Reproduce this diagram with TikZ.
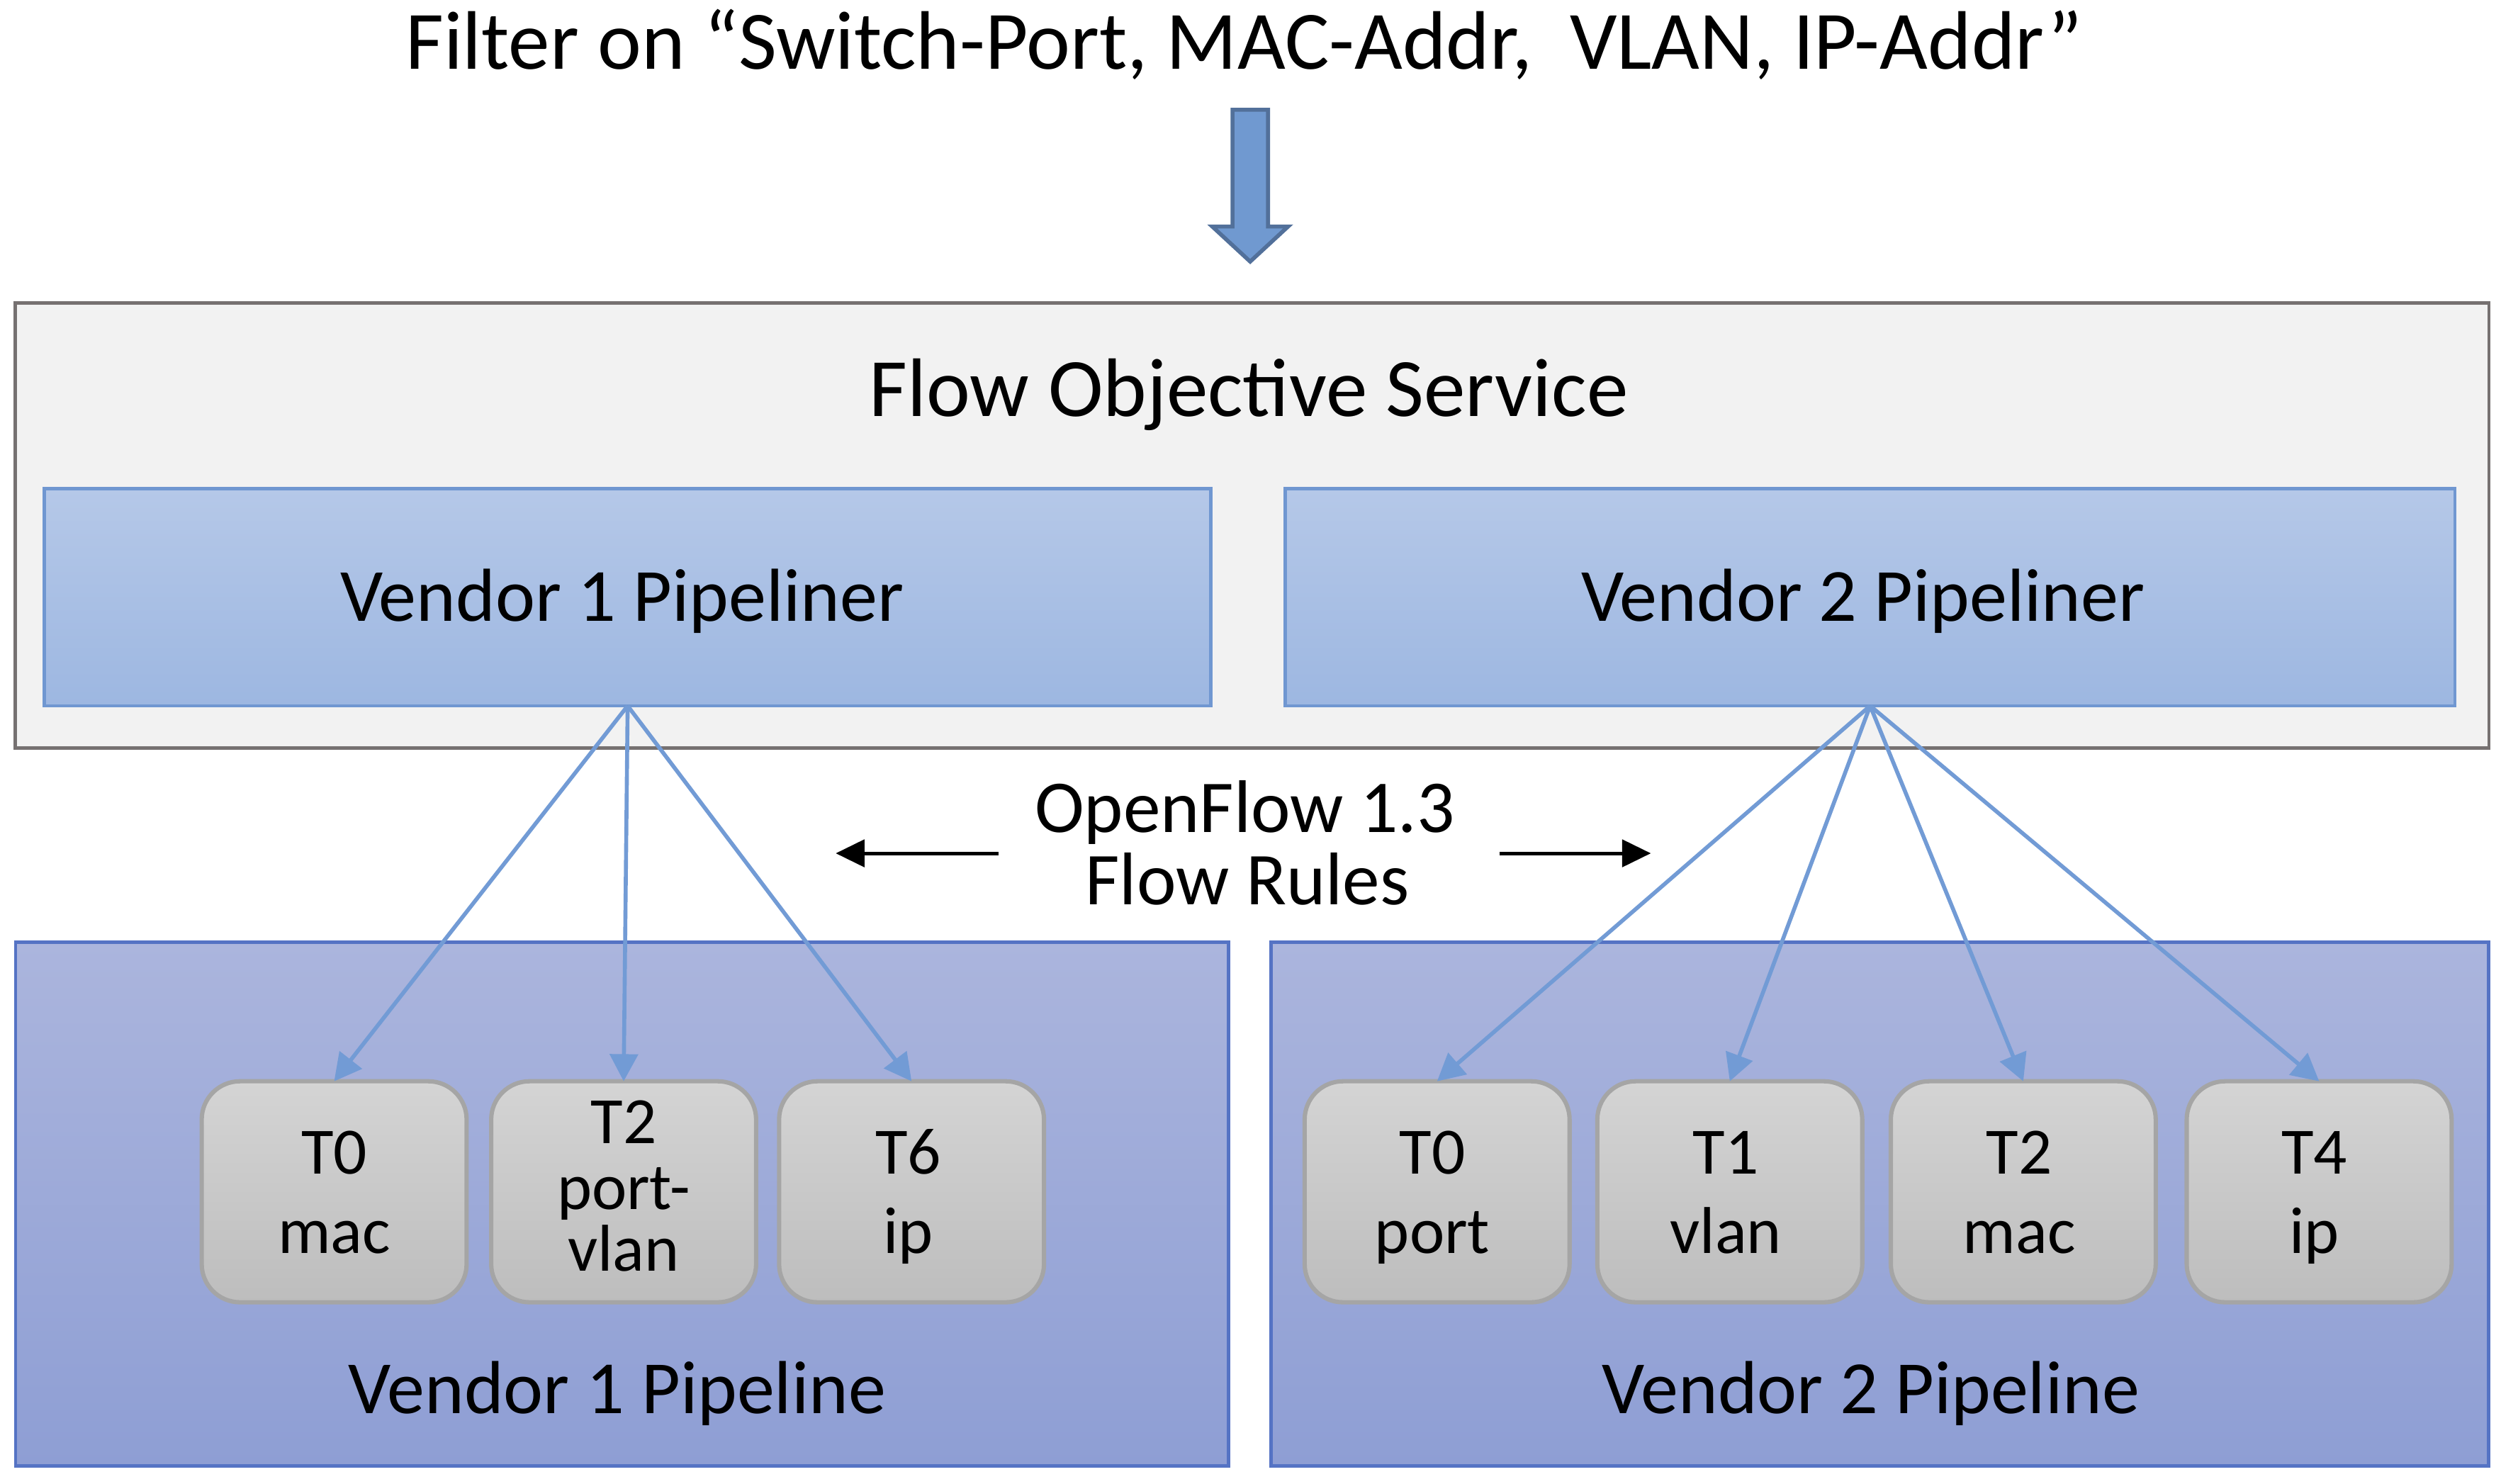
\documentclass[tikz,border=0pt]{standalone}
\usepackage{fontspec}
\setmainfont{Carlito}
\usetikzlibrary{arrows.meta}
\definecolor{fosfill}{HTML}{F2F2F2}
\definecolor{fosborder}{HTML}{767171}
\definecolor{plrtop}{HTML}{B5C8E8}
\definecolor{plrbot}{HTML}{9DB7E1}
\definecolor{plrborder}{HTML}{7097D1}
\definecolor{pipetop}{HTML}{ABB5DD}
\definecolor{pipebot}{HTML}{8E9ED4}
\definecolor{pipeborder}{HTML}{5573C4}
\definecolor{tbltop}{HTML}{D4D4D4}
\definecolor{tblbot}{HTML}{BDBDBD}
\definecolor{tblborder}{HTML}{A5A5A5}
\definecolor{conn}{HTML}{729BD5}
\definecolor{bafill}{HTML}{7099D0}
\definecolor{baborder}{HTML}{52709A}
\newcommand{\fsTitle}{\fontsize{14.8pt}{17pt}\selectfont}
\newcommand{\fsVendor}{\fontsize{13.4pt}{16pt}\selectfont}
\newcommand{\fsOF}{\fontsize{13.3pt}{16pt}\selectfont}
\newcommand{\fsTable}{\fontsize{11.8pt}{14pt}\selectfont}
\begin{document}
\begin{tikzpicture}[x=0.01cm,y=-0.01cm,
  outerbox/.style={draw=fosborder, fill=fosfill, line width=0.02cm, inner sep=0pt, outer sep=0pt},
  plrbox/.style={draw=plrborder, top color=plrtop, bottom color=plrbot, line width=0.02cm, inner sep=0pt, outer sep=0pt, minimum height=1.36cm},
  pipebox/.style={draw=pipeborder, top color=pipetop, bottom color=pipebot, line width=0.022cm, inner sep=0pt, outer sep=0pt, minimum height=3.28cm},
  tblbox/.style={draw=tblborder, top color=tbltop, bottom color=tblbot, line width=0.027cm, rounded corners=0.24cm, minimum width=1.66cm, minimum height=1.385cm, inner sep=0pt, outer sep=0pt},
  txt/.style={anchor=base, inner sep=0pt, outer sep=0pt},
  tbltxt/.style={txt, font=\fsTable},
  flowarrow/.style={draw=conn, line width=0.025cm, -{Triangle[length=0.17cm,width=0.175cm]}},
  blackarrow/.style={draw=black, line width=0.022cm, -{Triangle[length=0.18cm,width=0.17cm]}},
  blockarrow/.style={draw=baborder, fill=bafill, line width=0.025cm, line join=miter}
]
\useasboundingbox (0,0) rectangle (1568,930.4);

% title and block arrow
\node[txt, font=\fsTitle] (title) at (780,43.4) {Filter on “Switch-Port, MAC-Addr,\ \ VLAN, IP-Addr”};
\draw[blockarrow] (772.7,68.8) -- (795,68.8) -- (795,142) -- (807.6,142) -- (783.8,164) -- (760,142) -- (772.7,142) -- cycle;

% flow objective service
\node[outerbox, minimum width=15.5cm, minimum height=2.79cm] (fos) at (785,329.5) {};
\node[txt, font=\fsTitle] (fostxt) at (783,261) {Flow Objective Service};

\node[plrbox, minimum width=7.31cm] (v1pl) at (393.5,374.5) {};
\node[txt, font=\fsVendor] (v1pltxt) at (390,389.5) {Vendor 1 Pipeliner};
\node[plrbox, minimum width=7.33cm] (v2pl) at (1172.5,374.5) {};
\node[txt, font=\fsVendor] (v2pltxt) at (1168,389.5) {Vendor 2 Pipeliner};

% OpenFlow label and arrows
\node[txt, font=\fsOF] (of1) at (780.5,522) {OpenFlow 1.3};
\node[txt, font=\fsOF] (of2) at (782,567.3) {Flow Rules};
\coordinate (la0) at (626,535);
\coordinate (la1) at (524,535);
\coordinate (ra0) at (940,535);
\coordinate (ra1) at (1035,535);
\draw[blackarrow] (la0) -- (la1);
\draw[blackarrow] (ra0) -- (ra1);

% pipelines
\node[pipebox, minimum width=7.6cm] (v1p) at (390,755) {};
\node[txt, font=\fsVendor] (v1ptxt) at (387,886.4) {Vendor 1 Pipeline};
\node[pipebox, minimum width=7.63cm] (v2p) at (1178.5,755) {};
\node[txt, font=\fsVendor] (v2ptxt) at (1173,886.4) {Vendor 2 Pipeline};

% tables vendor 1
\node[tblbox] (l0) at (209.5,747.2) {};
\node[tbltxt] (l0a) at (209.5,736.1) {T0};
\node[tbltxt] (l0b) at (209.5,785.6) {mac};
\node[tblbox] (l2) at (391,747.2) {};
\node[tbltxt] (l2a) at (391,716.8) {T2};
\node[tbltxt] (l2b) at (391,758.3) {port-};
\node[tbltxt] (l2c) at (391,796.8) {vlan};
\node[tblbox] (l6) at (571.5,747.2) {};
\node[tbltxt] (l6a) at (569.5,736.1) {T6};
\node[tbltxt] (l6b) at (569.5,785.6) {ip};

% tables vendor 2
\node[tblbox] (r0) at (901,747.2) {};
\node[tbltxt] (r0a) at (898,736.1) {T0};
\node[tbltxt] (r0b) at (898,785.6) {port};
\node[tblbox] (r1) at (1084.5,747.2) {};
\node[tbltxt] (r1a) at (1082,736.1) {T1};
\node[tbltxt] (r1b) at (1082,785.6) {vlan};
\node[tblbox] (r2) at (1268.5,747.2) {};
\node[tbltxt] (r2a) at (1266,736.1) {T2};
\node[tbltxt] (r2b) at (1266,785.6) {mac};
\node[tblbox] (r4) at (1454,747.2) {};
\node[tbltxt] (r4a) at (1451,736.1) {T4};
\node[tbltxt] (r4b) at (1451,785.6) {ip};

% connectors
\draw[flowarrow] (v1pl.south) -- (l0.north);
\draw[flowarrow] (v1pl.south) -- (l2.north);
\draw[flowarrow] (v1pl.south) -- (l6.north);
\draw[flowarrow] (v2pl.south) -- (r0.north);
\draw[flowarrow] (v2pl.south) -- (r1.north);
\draw[flowarrow] (v2pl.south) -- (r2.north);
\draw[flowarrow] (v2pl.south) -- (r4.north);
\end{tikzpicture}
\end{document}
